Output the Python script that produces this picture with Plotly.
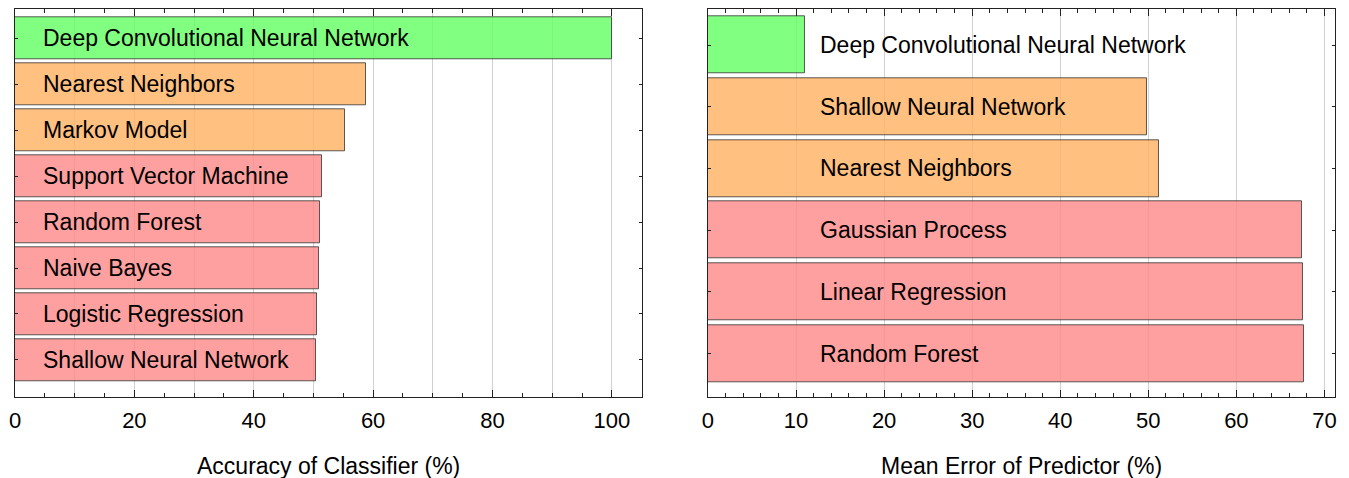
import plotly.graph_objects as go

# ---- data ----
clf_names = ["Deep Convolutional Neural Network", "Nearest Neighbors", "Markov Model",
             "Support Vector Machine", "Random Forest", "Naive Bayes",
             "Logistic Regression", "Shallow Neural Network"]
clf_accuracy = [100.0, 58.8, 55.3, 51.5, 51.1, 50.9, 50.6, 50.4]
clf_tier = ["best", "mid", "mid", "low", "low", "low", "low", "low"]

pred_names = ["Deep Convolutional Neural Network", "Shallow Neural Network", "Nearest Neighbors",
              "Gaussian Process", "Linear Regression", "Random Forest"]
pred_error = [11.0, 49.9, 51.2, 67.5, 67.6, 67.7]
pred_tier = ["best", "mid", "mid", "low", "low", "low"]

left_ticks = [0, 20, 40, 60, 80, 100]
right_ticks = [0, 10, 20, 30, 40, 50, 60, 70]
left_title = "Accuracy of Classifier (%)"
right_title = "Mean Error of Predictor (%)"

# ---- style ----
tier_color = {"best": "rgba(96,255,96,0.8)", "mid": "rgba(255,176,96,0.8)",
              "low": "rgba(255,136,136,0.8)"}
FONT = "Liberation Sans, Arial, sans-serif"
FS = 22
FS_TXT = 23
edge = "rgba(40,40,40,0.75)"
grid = "rgba(0,0,0,0.18)"
frame = "#222222"

fig = go.Figure()
fig.add_trace(go.Bar(
    x=clf_accuracy, y=clf_names, orientation="h", width=0.92,
    marker=dict(color=[tier_color[t] for t in clf_tier], line=dict(color=edge, width=1)),
    xaxis="x", yaxis="y", showlegend=False, hoverinfo="x+y"))
fig.add_trace(go.Bar(
    x=pred_error, y=pred_names, orientation="h", width=0.92,
    marker=dict(color=[tier_color[t] for t in pred_tier], line=dict(color=edge, width=1)),
    xaxis="x2", yaxis="y2", showlegend=False, hoverinfo="x+y"))

n1, n2 = len(clf_names), len(pred_names)
ydom = [0.1868, 0.9973]

common_x = dict(showline=True, linecolor=frame, linewidth=1, mirror="ticks",
                ticks="inside", ticklen=7, tickcolor=frame, tickwidth=1,
                zeroline=False, gridcolor=grid, gridwidth=1, automargin=False,
                tickfont=dict(family=FONT, size=FS, color="black"),
                ticklabelstandoff=4)
common_y = dict(showline=True, linecolor=frame, linewidth=1, mirror="ticks",
                ticks="inside", ticklen=3, tickcolor=frame, showgrid=False,
                showticklabels=False, zeroline=False, type="category",
                categoryorder="array", automargin=False)

fig.update_layout(
    width=1349, height=478, margin=dict(l=0, r=0, t=0, b=0, autoexpand=False),
    paper_bgcolor="white", plot_bgcolor="white", bargap=0,
    font=dict(family=FONT, size=FS, color="black"),
    xaxis=dict(domain=[0.00519, 0.46976], range=[0, 105], anchor="y",
               tickvals=left_ticks, ticktext=[str(v) for v in left_ticks],
               showgrid=False,
               minor=dict(dtick=5, ticklen=4, ticks="inside", tickcolor=frame, showgrid=False),
               **common_x),
    yaxis=dict(domain=ydom, anchor="x", categoryarray=clf_names[::-1],
               range=[-0.80, n1 - 1 + 0.63], **common_y),
    xaxis2=dict(domain=[0.51890, 0.98369], range=[0, 71.2], anchor="y2",
                tickvals=right_ticks, ticktext=[str(v) for v in right_ticks],
                showgrid=True,
                minor=dict(dtick=2, ticklen=4, ticks="inside", tickcolor=frame, showgrid=False),
                **common_x),
    yaxis2=dict(domain=ydom, anchor="x2", categoryarray=pred_names[::-1],
                range=[-0.70, n2 - 1 + 0.58], **common_y),
    # overlay axis used only to draw the left panel's gridlines every 10
    xaxis3=dict(overlaying="x", matches="x", anchor="y", range=[0, 105],
                dtick=10, showgrid=True, gridcolor=grid, gridwidth=1,
                showticklabels=False, ticks="", showline=False,
                zeroline=False, side="bottom", automargin=False),
)
fig.add_trace(go.Scatter(x=[None], y=[None], xaxis="x3", yaxis="y", showlegend=False,
                         hoverinfo="skip"))

annotations = []
for name in clf_names:
    annotations.append(dict(text=name, xref="x domain", yref="y", x=0.0415, y=name,
                            xanchor="left", yanchor="middle", showarrow=False,
                            font=dict(family=FONT, size=FS_TXT, color="black")))
for name in pred_names:
    annotations.append(dict(text=name, xref="x2 domain", yref="y2", x=0.175, y=name,
                            xanchor="left", yanchor="middle", showarrow=False,
                            font=dict(family=FONT, size=FS_TXT, color="black")))
# axis titles
annotations.append(dict(text=left_title, xref="x domain", yref="y domain", x=0.5, y=-0.179,
                        xanchor="center", yanchor="middle", showarrow=False,
                        font=dict(family=FONT, size=FS_TXT, color="black")))
annotations.append(dict(text=right_title, xref="x2 domain", yref="y2 domain", x=0.5, y=-0.179,
                        xanchor="center", yanchor="middle", showarrow=False,
                        font=dict(family=FONT, size=FS_TXT, color="black")))
fig.update_layout(annotations=annotations)

fig.write_html("out.html")
